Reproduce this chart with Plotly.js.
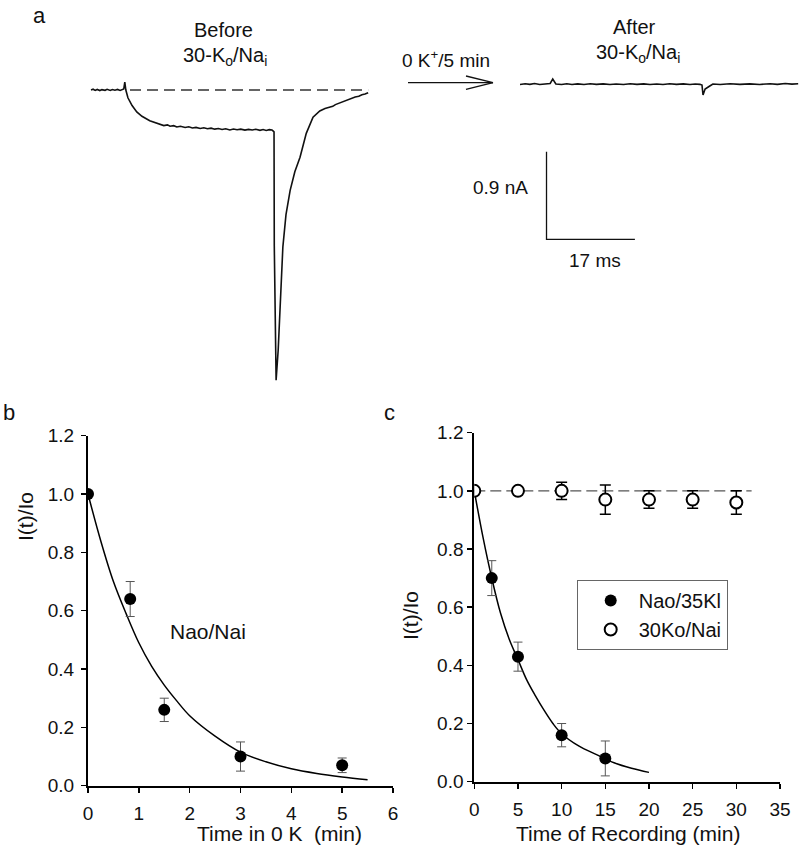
<!DOCTYPE html>
<html><head><meta charset="utf-8">
<script src="https://cdn.plot.ly/plotly-3.0.1.min.js"></script>
<style>html,body{margin:0;padding:0;background:#fff}#chart{width:800px;height:855px}</style>
</head><body><div id="chart"></div>
<script>
// ---------- Panel a : current traces (time in ms, current in nA) ----------
const beforeTimeMs = [0,0.4,0.8,1.2,1.7,2.1,2.7,3.1,3.7,4.1,4.6,5.1,5.6,6.0,6.3,6.5,6.7,7.1,7.9,8.8,9.8,11.3,12.3,
  13.3,14.0,14.7,15.2,15.9,16.5,17.2,18.1,18.8,19.5,20.2,21.0,21.7,22.4,23.1,23.8,24.5,25.2,25.9,26.7,27.4,28.1,28.8,29.6,30.3,31.0,31.7,32.5,33.1,33.7,34.3,34.8,35.0,
  35.2,35.25,35.6,36.0,36.3,36.9,37.5,38.3,39.2,40.2,41.4,42.7,44.0,45.0,46.0,46.5,47.0,47.9,48.5,49.2,50.0,50.8,51.5,52.1,52.7,53.3];
const beforeCurrentNa = [0,0.008,-0.004,0.006,-0.006,0.004,-0.003,0.007,-0.005,0.005,-0.002,0.006,-0.004,0.008,0.01,0.08,0,-0.08,-0.16,-0.225,-0.27,-0.315,-0.335,
  -0.355,-0.365,-0.358,-0.372,-0.366,-0.38,-0.372,-0.385,-0.378,-0.39,-0.384,-0.395,-0.388,-0.398,-0.392,-0.402,-0.396,-0.405,-0.398,-0.41,-0.401,-0.408,-0.402,-0.412,-0.404,-0.41,-0.403,-0.414,-0.406,-0.415,-0.407,-0.41,-0.42,
  -0.43,-1.6,-2.98,-2.67,-2.29,-1.61,-1.28,-1.03,-0.84,-0.69,-0.445,-0.28,-0.215,-0.19,-0.175,-0.168,-0.15,-0.13,-0.118,-0.102,-0.09,-0.072,-0.065,-0.048,-0.042,-0.028];
const baselineTimeMs = [7.5,53.3];
const baselineCurrentNa = [0,0];
const afterTimeMs = [82.5,83.5,84.4,85.3,86.3,87.2,88.3,88.8,89.4,90.5,91.5,92.5,93.6,94.8,96.0,97.2,98.5,99.8,101.0,102.4,103.7,105.0,106.3,107.5,108.8,110.0,111.3,112.6,113.9,115.2,116.2,117.1,117.5,117.7,118.1,119.0,119.6,121.0,122.9,124.8,126.7,128.6,130.6,132.0,133.5,134.8,136.0];
const afterCurrentNa = [0.056,0.064,0.058,0.066,0.056,0.063,0.067,0.113,0.062,0.057,0.064,0.056,0.063,0.057,0.064,0.058,0.063,0.056,0.062,0.057,0.064,0.058,0.063,0.056,0.062,0.057,0.064,0.058,0.063,0.056,0.062,0.058,0.051,-0.051,0.010,0.041,0.062,0.057,0.064,0.058,0.063,0.057,0.064,0.058,0.067,0.060,0.064];
const scaleBarMs = 17;
const scaleBarNa = 0.9;

// ---------- Panel b ----------
const bTimeMin = [0,0.83,1.5,3,5];
const bRatio = [1.0,0.64,0.26,0.10,0.07];
const bErr = [0,0.06,0.04,0.05,0.025];
const bFitX = [0,0.25,0.5,0.75,1,1.25,1.5,1.75,2,2.5,3,3.5,4,4.5,5,5.5];
const bFitY = [1.0,0.84,0.70,0.59,0.49,0.41,0.345,0.29,0.24,0.17,0.115,0.082,0.058,0.042,0.03,0.02];

// ---------- Panel c ----------
const cNaoTime = [0,2,5,10,15];
const cNaoRatio = [1.0,0.70,0.43,0.16,0.08];
const cNaoErr = [0,0.06,0.05,0.04,0.06];
const cFitX = [0,1,2,3,4,5,6,7,8,9,10,12,14,16,18,20];
const cFitY = [1.0,0.84,0.70,0.58,0.49,0.42,0.35,0.295,0.245,0.20,0.165,0.122,0.093,0.065,0.046,0.032];
const cKoTime = [0,5,10,15,20,25,30];
const cKoRatio = [1.0,1.0,1.0,0.97,0.97,0.97,0.96];
const cKoErr = [0,0,0.03,0.05,0.03,0.03,0.04];

// pixel helpers for paper positions
const W = 800, H = 855;
const px = x => x / W;
const py = y => 1 - y / H;

const FONT = 'Liberation Sans, Arial, sans-serif';
const ERRCOL = '#555';

const traces = [
  {x: beforeTimeMs, y: beforeCurrentNa, xaxis:'x3', yaxis:'y3', mode:'lines', line:{color:'#111', width:1.6}, showlegend:false, hoverinfo:'skip'},
  {x: baselineTimeMs, y: baselineCurrentNa, xaxis:'x3', yaxis:'y3', mode:'lines', line:{color:'#333', width:1.3, dash:'11px,6px'}, showlegend:false, hoverinfo:'skip'},
  {x: afterTimeMs, y: afterCurrentNa, xaxis:'x3', yaxis:'y3', mode:'lines', line:{color:'#111', width:1.6}, showlegend:false, hoverinfo:'skip'},
  {x: [87.6, 87.6, 87.6 + scaleBarMs], y: [-0.633, -0.633 - scaleBarNa, -0.633 - scaleBarNa], xaxis:'x3', yaxis:'y3', mode:'lines', line:{color:'#111', width:1.3}, showlegend:false, hoverinfo:'skip'},

  {x: bFitX, y: bFitY, xaxis:'x', yaxis:'y', mode:'lines', line:{color:'#000', width:1.5, shape:'spline'}, showlegend:false},
  {x: bTimeMin, y: bRatio, xaxis:'x', yaxis:'y', mode:'markers', marker:{color:'#000', size:12},
   error_y:{type:'data', array:bErr, color:ERRCOL, thickness:1, width:4.5}, showlegend:false},

  {x: cFitX, y: cFitY, xaxis:'x2', yaxis:'y2', mode:'lines', line:{color:'#000', width:1.5, shape:'spline'}, showlegend:false},
  {x: cNaoTime, y: cNaoRatio, xaxis:'x2', yaxis:'y2', mode:'markers', name:'Nao/35Kl', marker:{color:'#000', size:12},
   error_y:{type:'data', array:cNaoErr, color:ERRCOL, thickness:1, width:4.5}},
  {x: cKoTime, y: cKoRatio, xaxis:'x2', yaxis:'y2', mode:'markers', name:'30Ko/Nai', marker:{color:'#fff', size:12, symbol:'circle', line:{color:'#000', width:2}},
   error_y:{type:'data', array:cKoErr, color:'#000', thickness:1.5, width:5.5}}
];

const axisCommon = {showline:true, linecolor:'#000', linewidth:2, ticks:'outside', ticklen:5, tickwidth:1.5, tickcolor:'#000',
  showgrid:false, zeroline:false, fixedrange:true, tickfont:{family:FONT, size:19, color:'#111'}};

function note(text, x, y, size, extra) {
  return Object.assign({text:text, x:px(x), y:py(y), xref:'paper', yref:'paper', xanchor:'center', yanchor:'middle',
    showarrow:false, font:{size:size}}, extra || {});
}

const layout = {
  width: W, height: H,
  margin:{l:0, r:0, t:0, b:0},
  paper_bgcolor:'#fff', plot_bgcolor:'rgba(0,0,0,0)',
  font:{family:FONT, color:'#111'},
  xaxis: Object.assign({}, axisCommon, {domain:[px(88), px(393)], range:[0,6], tickvals:[0,1,2,3,4,5,6], anchor:'y', ticklabelstandoff:4}),
  yaxis: Object.assign({}, axisCommon, {domain:[py(785.7), py(435.7)], range:[0,1.2], tickvals:[0,0.2,0.4,0.6,0.8,1.0,1.2], tickformat:'.1f', anchor:'x', ticklabelstandoff:3}),
  xaxis2: Object.assign({}, axisCommon, {domain:[px(474.3), px(780)], range:[0,35], tickvals:[0,5,10,15,20,25,30,35], anchor:'y2', ticklabelstandoff:4}),
  yaxis2: Object.assign({}, axisCommon, {domain:[py(781.7), py(432.7)], range:[0,1.2], tickvals:[0,0.2,0.4,0.6,0.8,1.0,1.2], tickformat:'.1f', anchor:'x2'}),
  xaxis3: {domain:[0,1], range:[-17.5, 136.35], visible:false, fixedrange:true, anchor:'y3'},
  yaxis3: {domain:[py(400), 1], range:[0.924 - 400/97.4, 0.924], visible:false, fixedrange:true, anchor:'x3'},
  showlegend:true,
  legend:{x:px(576.7), y:py(580), xanchor:'left', yanchor:'top', bordercolor:'#666', borderwidth:1, bgcolor:'#fff',
    font:{family:FONT, size:20, color:'#111'}, indentation:5, itemwidth:46},
  shapes:[
    {type:'line', xref:'x2', yref:'y2', x0:0, x1:31.75, y0:1.0, y1:1.0, line:{color:'#555', width:1.2, dash:'11px,5px'}, layer:'below'},
    {type:'line', xref:'paper', yref:'paper', x0:px(408), x1:px(493), y0:py(82.7), y1:py(82.7), line:{color:'#111', width:1.3}},
    {type:'line', xref:'paper', yref:'paper', x0:px(466), x1:px(493), y0:py(76), y1:py(82.7), line:{color:'#111', width:1.3}},
    {type:'line', xref:'paper', yref:'paper', x0:px(466), x1:px(493), y0:py(89.4), y1:py(82.7), line:{color:'#111', width:1.3}}
  ],
  annotations:[
    note('a', 39, 15, 22),
    note('b', 9, 412, 22),
    note('c', 389, 412, 22),
    note('Before', 223, 30, 20),
    note('30-K<sub>o</sub>/Na<sub>i</sub>', 225, 57, 20),
    note('After', 634, 27, 20),
    note('30-K<sub>o</sub>/Na<sub>i</sub>', 638, 53, 20),
    note('0 K<sup>+</sup>/5 min', 446, 59, 19),
    note('0.9 nA', 530, 188, 19, {xanchor:'right'}),
    note('17 ms', 595, 260, 19),
    {text:'Nao/Nai', x:2.36, y:0.528, xref:'x', yref:'y', xanchor:'center', yanchor:'middle', showarrow:false, font:{size:21}},
    note('I(t)/Io', 25, 517, 21, {textangle:-90}),
    note('Time in 0 K\u00a0\u00a0(min)', 279, 833, 21),
    note('I(t)/Io', 410, 615, 21, {textangle:-90}),
    note('Time of Recording (min)', 628, 833, 21)
  ]
};

Plotly.newPlot('chart', traces, layout, {staticPlot:true, displayModeBar:false});
</script>
</body></html>
